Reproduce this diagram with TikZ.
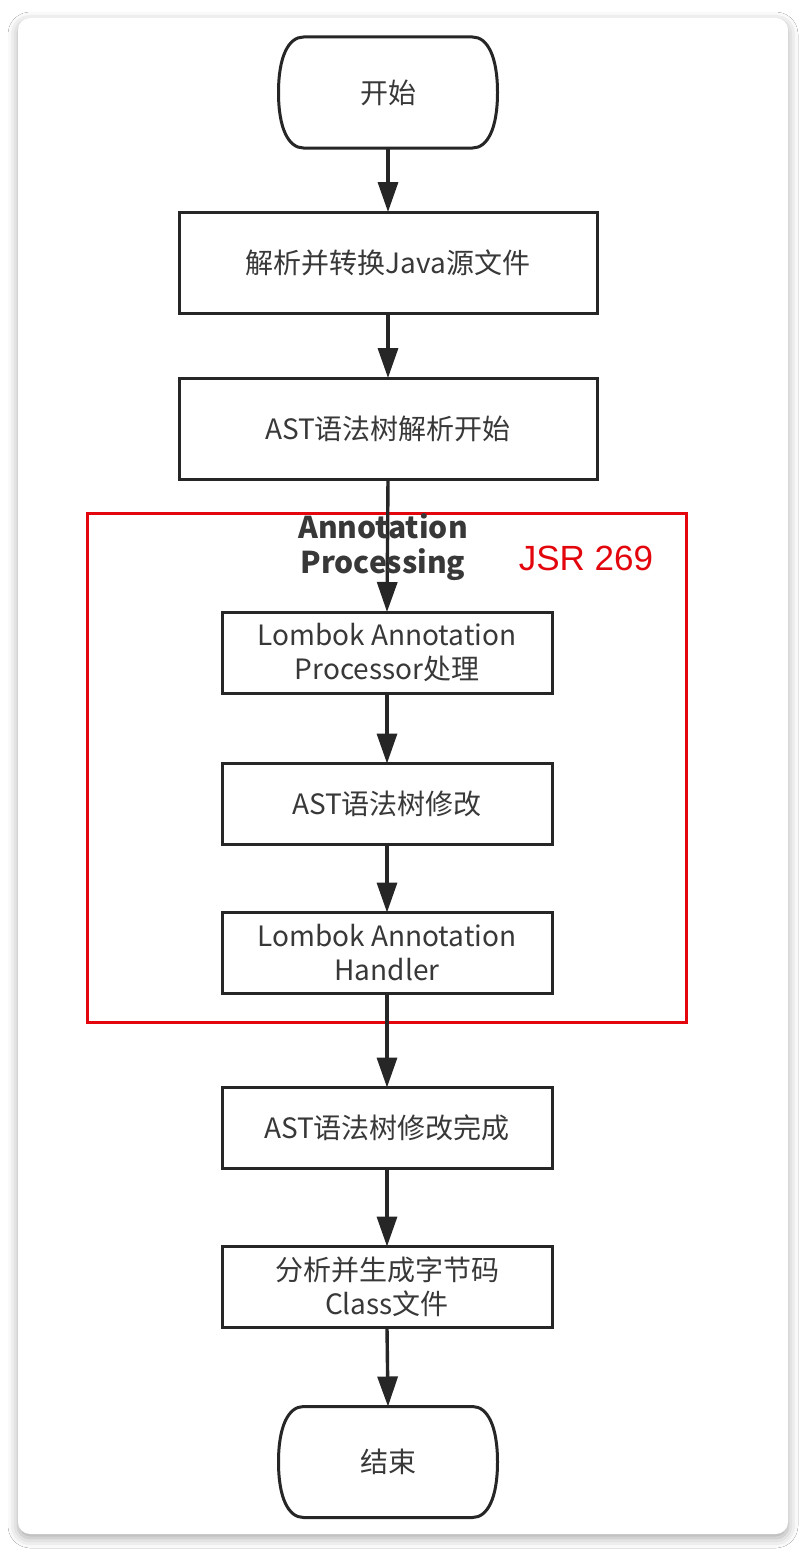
\documentclass[tikz,border=0pt]{standalone}
\usepackage{fontspec}
\setmainfont{Noto Sans CJK SC}
\newfontfamily\latinsans{Liberation Sans}
\usetikzlibrary{arrows.meta,shadows.blur}
\definecolor{ink}{HTML}{262626}
\definecolor{txt}{HTML}{383838}
\definecolor{frame}{HTML}{E3070D}
\begin{document}
\begin{tikzpicture}[x=1pt,y=-1pt,
  box/.style={draw=ink,line width=3pt,fill=white,text=txt,font=\fontsize{28}{34}\selectfont,align=center,inner sep=0pt,outer sep=0pt},
  bigbox/.style={box,minimum width=418pt,minimum height=101pt},
  smallbox/.style={box,minimum width=330pt,minimum height=81pt},
  termnode/.style={text=txt,font=\fontsize{28}{34}\selectfont,minimum width=219pt,minimum height=111pt,inner sep=0pt,outer sep=0pt},
  termline/.style={draw=ink,line width=3pt,fill=white},
  flow/.style={draw=ink,line width=3.4pt,-{Triangle[length=30pt,width=20pt]}}]
\useasboundingbox (0,0) rectangle (806,1552);
\fill[white] (0,0) rectangle (806,1552);
\fill[white,rounded corners=12pt,blur shadow={shadow xshift=0pt,shadow yshift=-4pt,shadow blur radius=10pt,shadow opacity=35}] (18,18) rectangle (788,1534);

% terminals
\node[termnode] (start) at (388,92.5) {};
\draw[termline] ([xshift=25pt]start.north west) -- ([xshift=-25pt]start.north east)
  .. controls ([xshift=-10pt]start.north east) and ([yshift=36pt]start.east) .. (start.east)
  .. controls ([yshift=-36pt]start.east) and ([xshift=-10pt]start.south east) .. ([xshift=-25pt]start.south east)
  -- ([xshift=25pt]start.south west)
  .. controls ([xshift=10pt]start.south west) and ([yshift=-36pt]start.west) .. (start.west)
  .. controls ([yshift=36pt]start.west) and ([xshift=10pt]start.north west) .. cycle;
\node[text=txt,font=\fontsize{28}{34}\selectfont] (starttext) at (start) {开始};

\node[termnode] (end) at (388,1462) {};
\draw[termline] ([xshift=25pt]end.north west) -- ([xshift=-25pt]end.north east)
  .. controls ([xshift=-10pt]end.north east) and ([yshift=36pt]end.east) .. (end.east)
  .. controls ([yshift=-36pt]end.east) and ([xshift=-10pt]end.south east) .. ([xshift=-25pt]end.south east)
  -- ([xshift=25pt]end.south west)
  .. controls ([xshift=10pt]end.south west) and ([yshift=-36pt]end.west) .. (end.west)
  .. controls ([yshift=36pt]end.west) and ([xshift=10pt]end.north west) .. cycle;
\node[text=txt,font=\fontsize{28}{34}\selectfont] (endtext) at (end) {结束};

% red frame
\node[draw=frame,line width=3pt,minimum width=599pt,minimum height=509pt,inner sep=0pt] (apframe) at (386.5,767.5) {};

% boxes
\node[bigbox] (b1) at (388,262.5) {解析并转换Java源文件};
\node[bigbox] (b2) at (388,428.5) {AST语法树解析开始};
\node[smallbox] (b3) at (387,652.5) {Lombok Annotation\\Processor处理};
\node[smallbox] (b4) at (387,804) {AST语法树修改};
\node[smallbox] (b5) at (387,953) {Lombok Annotation\\Handler};
\node[smallbox] (b6) at (387,1128) {AST语法树修改完成};
\node[smallbox] (b7) at (387,1287) {分析并生成字节码\\Class文件};

% arrows
\draw[flow] (start.south) -- (b1.north);
\draw[flow] (b1) -- (b2);
\draw[flow] (b2.south) -- (b3.north);
\draw[flow] (b3) -- (b4);
\draw[flow] (b4) -- (b5);
\draw[flow] (b5) -- (b6);
\draw[flow] (b6) -- (b7);
\draw[flow] (b7.south) -- (end.north);

% labels
\node[text=txt,font=\bfseries\fontsize{30}{35}\selectfont,align=center] (aplabel) at (383,547) {Annotation\\Processing};
\node[text=frame,font=\latinsans\fontsize{35}{40}\selectfont] (jsr) at (586,558) {JSR 269};
\end{tikzpicture}
\end{document}
